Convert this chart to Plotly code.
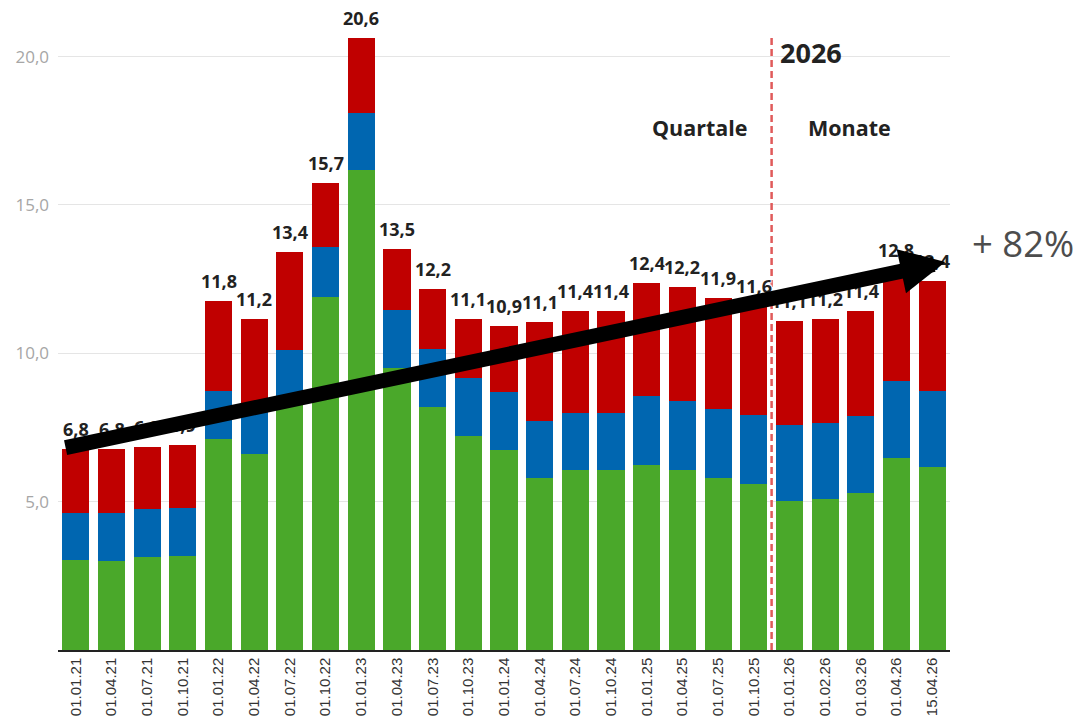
import plotly.graph_objects as go

categories = ["01.01.21", "01.04.21", "01.07.21", "01.10.21", "01.01.22", "01.04.22",
              "01.07.22", "01.10.22", "01.01.23", "01.04.23", "01.07.23", "01.10.23",
              "01.01.24", "01.04.24", "01.07.24", "01.10.24", "01.01.25", "01.04.25",
              "01.07.25", "01.10.25", "01.01.26", "01.02.26", "01.03.26", "01.04.26",
              "15.04.26"]

green = [3.04, 3.00, 3.12, 3.17, 7.12, 6.61, 8.40, 11.90, 16.17, 9.52, 8.20, 7.22, 6.75,
         5.80, 6.07, 6.07, 6.24, 6.07, 5.79, 5.58, 5.03, 5.10, 5.29, 6.48, 6.17]
blue = [1.58, 1.62, 1.62, 1.62, 1.62, 1.59, 1.72, 1.67, 1.94, 1.95, 1.96, 1.96, 1.95,
        1.93, 1.93, 1.93, 2.33, 2.33, 2.34, 2.33, 2.56, 2.56, 2.58, 2.59, 2.55]
red = [2.14, 2.14, 2.11, 2.13, 3.03, 2.95, 3.28, 2.16, 2.50, 2.06, 2.02, 1.96, 2.23,
       3.31, 3.44, 3.44, 3.80, 3.83, 3.74, 3.69, 3.50, 3.51, 3.56, 3.73, 3.72]
totals = [6.8, 6.8, 6.9, 6.9, 11.8, 11.2, 13.4, 15.7, 20.6, 13.5, 12.2, 11.1, 10.9,
          11.1, 11.4, 11.4, 12.4, 12.2, 11.9, 11.6, 11.1, 11.2, 11.4, 12.8, 12.4]

y_tickvals = [5, 10, 15, 20]
y_ticktext = ["5,0", "10,0", "15,0", "20,0"]

divider_pos = 19.5          # between 01.10.25 and 01.01.26
arrow_tail = (-0.33, 6.81)
arrow_tip = (24.37, 13.08)
growth_text = "+ 82%"

C_GREEN = "#4AA82A"
C_BLUE = "#0066B0"
C_RED = "#C00000"

fig = go.Figure()
for vals, col in [(green, C_GREEN), (blue, C_BLUE), (red, C_RED)]:
    fig.add_trace(go.Bar(x=categories, y=vals, marker=dict(color=col, line=dict(width=0)),
                         showlegend=False, hoverinfo="skip"))

annotations = []
halo = "1px 1px 1px #fff, -1px -1px 1px #fff, 1px -1px 1px #fff, -1px 1px 1px #fff"
for i, c in enumerate(categories):
    top = green[i] + blue[i] + red[i]
    annotations.append(dict(
        x=c, y=top, xref="x", yref="y", yanchor="bottom", yshift=7, borderpad=0,
        text=f"{totals[i]:.1f}".replace(".", ","), showarrow=False,
        font=dict(family="Open Sans", size=18, color="#222", weight=700, shadow=halo)))

annotations.append(dict(x=divider_pos, y=20.13, xref="x", yref="y", xanchor="left",
                        yanchor="middle", xshift=6, text="2026", showarrow=False,
                        font=dict(family="Open Sans", size=27, color="#222", weight=700)))
annotations.append(dict(x=17.48, y=17.6, xref="x", yref="y", text="Quartale", showarrow=False,
                        font=dict(family="Open Sans", size=21.5, color="#222", weight=700)))
annotations.append(dict(x=21.68, y=17.6, xref="x", yref="y", text="Monate", showarrow=False,
                        font=dict(family="Open Sans", size=21.5, color="#222", weight=700)))
annotations.append(dict(x=1.082, y=13.72, xref="paper", yref="y", xanchor="center",
                        yanchor="middle", text=growth_text, showarrow=False,
                        font=dict(family="Open Sans", size=36.5, color="#4d4d4d")))
annotations.append(dict(x=arrow_tip[0], y=arrow_tip[1], xref="x", yref="y",
                        ax=arrow_tail[0], ay=arrow_tail[1], axref="x", ayref="y",
                        text="", showarrow=True, arrowhead=2, arrowsize=0.6,
                        arrowwidth=15, arrowcolor="black", standoff=0))

fig.add_shape(type="line", xref="x", yref="y", x0=divider_pos, x1=divider_pos,
              y0=0, y1=20.63, line=dict(color="#E05A5A", width=2.5, dash="7px,4px"))

fig.update_layout(
    width=1073, height=713, barmode="stack", bargap=0.24,
    margin=dict(l=50, r=131, t=2, b=71),
    plot_bgcolor="white", paper_bgcolor="white",
    annotations=annotations,
    xaxis=dict(type="category", tickangle=-90, showgrid=False, showline=True,
               linecolor="#222", linewidth=1.5, ticks="",
               tickfont=dict(family="Liberation Sans", size=15, color="#333"),
               range=[-0.5, 24.5]),
    yaxis=dict(range=[0, 21.57], tickvals=y_tickvals, ticktext=y_ticktext,
               showgrid=True, gridcolor="#e5e5e5", gridwidth=1, zeroline=False,
               showline=False, ticks="", ticklabelstandoff=8,
               tickfont=dict(family="Open Sans", size=17, color="#a6a6a6")),
)

fig.write_html("out.html")
